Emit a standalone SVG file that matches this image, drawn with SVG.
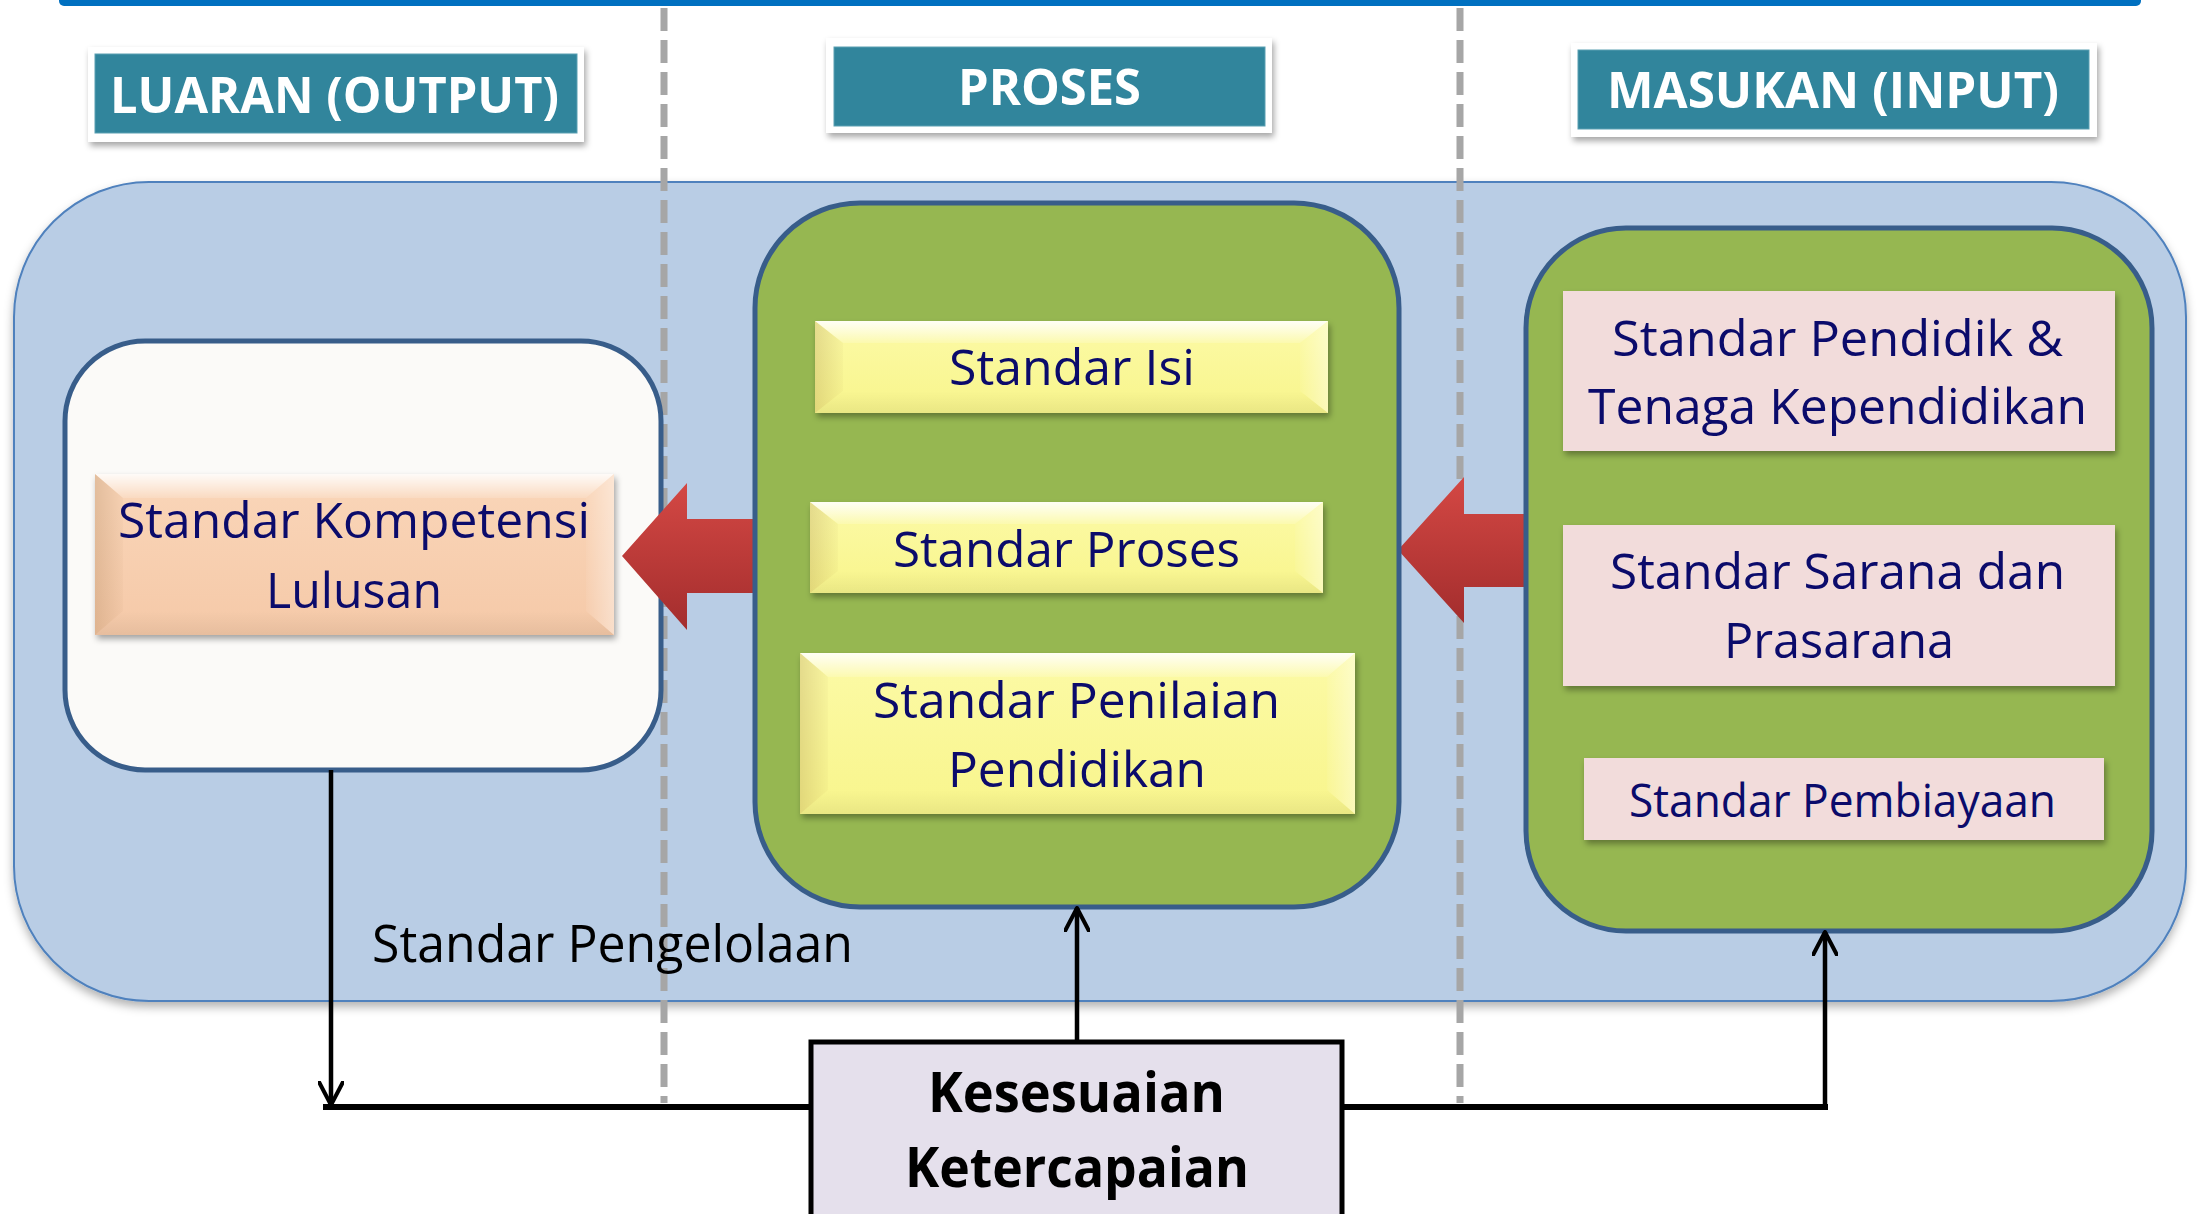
<svg xmlns="http://www.w3.org/2000/svg" width="2201" height="1214" viewBox="0 0 2201 1214">
<defs>
<style>
.hdrOuter{fill:#FFFFFF;}
.hdrInner{fill:#31859C;stroke:#5A9FB2;stroke-width:1;}
.hdrText{font-family:"Open Sans","Liberation Sans",sans-serif;font-weight:bold;font-size:51px;fill:#FFFFFF;}
.bt{font-family:"Open Sans","Liberation Sans",sans-serif;font-size:50px;fill:#0B0B6B;}
.bigBox{fill:#B9CDE5;stroke:#4F81BD;stroke-width:2;}
.container{stroke:#385D8A;stroke-width:5;}
.pink{fill:#F2DCDB;}
.dash{stroke:#A6A6A6;stroke-width:7;stroke-dasharray:23 9;fill:none;}
.conn{stroke:#000;stroke-width:4.5;fill:none;}
.connH{stroke:#000;stroke-width:6;fill:none;}
.redArrow{fill:url(#redG);}
</style>
<filter id="sh" x="-10%" y="-20%" width="125%" height="150%">
<feDropShadow dx="2" dy="4" stdDeviation="3" flood-color="#000" flood-opacity="0.35"/>
</filter>
<filter id="shBig" x="-5%" y="-5%" width="110%" height="115%">
<feDropShadow dx="0" dy="5" stdDeviation="5" flood-color="#000" flood-opacity="0.3"/>
</filter>
<linearGradient id="redG" x1="0" y1="0" x2="0" y2="1">
<stop offset="0" stop-color="#D44844"/>
<stop offset="1" stop-color="#A32D2D"/>
</linearGradient>
<linearGradient id="peachG" x1="0" y1="0" x2="0" y2="1">
<stop offset="0" stop-color="#FAD6B9"/>
<stop offset="1" stop-color="#F5C9A8"/>
</linearGradient>
<linearGradient id="yelG" x1="0" y1="0" x2="0" y2="1">
<stop offset="0" stop-color="#FCFAA6"/>
<stop offset="1" stop-color="#F8F58C"/>
</linearGradient>
<linearGradient id="bvTop" x1="0" y1="0" x2="0" y2="1">
<stop offset="0" stop-color="#FFFFFF" stop-opacity="0.9"/>
<stop offset="1" stop-color="#FFFFFF" stop-opacity="0.15"/>
</linearGradient>
<linearGradient id="bvLeft" x1="0" y1="0" x2="1" y2="0">
<stop offset="0" stop-color="#7A5020" stop-opacity="0.18"/>
<stop offset="1" stop-color="#7A5020" stop-opacity="0.03"/>
</linearGradient>
<linearGradient id="bvRight" x1="0" y1="0" x2="1" y2="0">
<stop offset="0" stop-color="#FFFFFF" stop-opacity="0.05"/>
<stop offset="1" stop-color="#FFFFFF" stop-opacity="0.4"/>
</linearGradient>
<linearGradient id="bvBot" x1="0" y1="0" x2="0" y2="1">
<stop offset="0" stop-color="#000000" stop-opacity="0.0"/>
<stop offset="1" stop-color="#000000" stop-opacity="0.06"/>
</linearGradient>
<marker id="openArrow" viewBox="0 0 26 26" refX="24" refY="13" markerWidth="26" markerHeight="26" markerUnits="userSpaceOnUse" orient="auto">
<path d="M1,1 L24,13 L1,25" fill="none" stroke="#000" stroke-width="4" stroke-linejoin="round" stroke-linecap="round"/>
</marker>
</defs>

<rect x="0" y="0" width="2201" height="1214" fill="#FFFFFF"/>

<!-- top bar -->
<rect id="topBar" x="59" y="-10" width="2082" height="16" rx="5" fill="#0070C0"/>

<!-- background container -->
<g id="mainArea">
<rect class="bigBox" x="14" y="182" width="2172" height="819" rx="135" filter="url(#shBig)"/>
</g>

<!-- divider dashed lines -->
<g id="dividers">
<line class="dash" x1="664" y1="8" x2="664" y2="1103"/>
<line class="dash" x1="1460" y1="8" x2="1460" y2="1103"/>
</g>

<!-- header labels -->
<g id="label-luaran">
<rect class="hdrOuter" x="88" y="47" width="496" height="95" filter="url(#sh)"/>
<rect class="hdrInner" x="95" y="54" width="482" height="79"/>
<text class="hdrText" x="110" y="113" textLength="449" lengthAdjust="spacingAndGlyphs">LUARAN (OUTPUT)</text>
</g>
<g id="label-proses">
<rect class="hdrOuter" x="826" y="38" width="446" height="95" filter="url(#sh)"/>
<rect class="hdrInner" x="834" y="47" width="431" height="79"/>
<text class="hdrText" x="958" y="105" textLength="183" lengthAdjust="spacingAndGlyphs">PROSES</text>
</g>
<g id="label-masukan">
<rect class="hdrOuter" x="1571" y="43" width="526" height="94" filter="url(#sh)"/>
<rect class="hdrInner" x="1578" y="50" width="511" height="79"/>
<text class="hdrText" x="1607" y="108" textLength="452" lengthAdjust="spacingAndGlyphs">MASUKAN (INPUT)</text>
</g>

<!-- output container -->
<g id="output">
<rect class="container" x="65" y="341" width="596" height="429" rx="80" fill="#FBFAF8"/>
</g>

<g id="kompetensi">
<rect x="95" y="474" width="519" height="161" fill="url(#peachG)" filter="url(#sh)"/>
<polygon points="95,474 614,474 586,498 123,498" fill="url(#bvTop)"/>
<polygon points="95,474 123,498 123,611 95,635" fill="url(#bvLeft)"/>
<polygon points="614,474 614,635 586,611 586,498" fill="url(#bvRight)"/>
<polygon points="95,635 123,611 586,611 614,635" fill="url(#bvBot)"/>
<text class="bt" x="118" y="538" textLength="472" lengthAdjust="spacingAndGlyphs">Standar Kompetensi</text>
<text class="bt" x="266" y="608" textLength="176" lengthAdjust="spacingAndGlyphs">Lulusan</text>
</g>

<!-- red flow arrows -->
<g id="flowArrows">
<path class="redArrow" d="M622,556 L687,483 L687,519 L754,519 L754,593 L687,593 L687,630 Z"/>
<path class="redArrow" d="M1398,550 L1464,477 L1464,514 L1530,514 L1530,587 L1464,587 L1464,623 Z"/>
</g>

<!-- process container -->
<g id="proses">
<rect class="container" x="755" y="203" width="644" height="704" rx="105" fill="#96B751"/>
</g>

<g id="standar-isi">
<rect x="815" y="321" width="513" height="92" fill="url(#yelG)" filter="url(#sh)"/>
<polygon points="815,321 1328,321 1300,343 843,343" fill="url(#bvTop)"/>
<polygon points="815,321 843,343 843,391 815,413" fill="url(#bvLeft)"/>
<polygon points="1328,321 1328,413 1300,391 1300,343" fill="url(#bvRight)"/>
<polygon points="815,413 843,391 1300,391 1328,413" fill="url(#bvBot)"/>
<text class="bt" x="949" y="385" textLength="246" lengthAdjust="spacingAndGlyphs">Standar Isi</text>
</g>

<g id="standar-proses">
<rect x="810" y="502" width="513" height="91" fill="url(#yelG)" filter="url(#sh)"/>
<polygon points="810,502 1323,502 1295,524 838,524" fill="url(#bvTop)"/>
<polygon points="810,502 838,524 838,571 810,593" fill="url(#bvLeft)"/>
<polygon points="1323,502 1323,593 1295,571 1295,524" fill="url(#bvRight)"/>
<polygon points="810,593 838,571 1295,571 1323,593" fill="url(#bvBot)"/>
<text class="bt" x="893" y="567" textLength="347" lengthAdjust="spacingAndGlyphs">Standar Proses</text>
</g>

<g id="standar-penilaian">
<rect x="800" y="653" width="555" height="161" fill="url(#yelG)" filter="url(#sh)"/>
<polygon points="800,653 1355,653 1327,677 828,677" fill="url(#bvTop)"/>
<polygon points="800,653 828,677 828,790 800,814" fill="url(#bvLeft)"/>
<polygon points="1355,653 1355,814 1327,790 1327,677" fill="url(#bvRight)"/>
<polygon points="800,814 828,790 1327,790 1355,814" fill="url(#bvBot)"/>
<text class="bt" x="873" y="718" textLength="407" lengthAdjust="spacingAndGlyphs">Standar Penilaian</text>
<text class="bt" x="948" y="787" textLength="258" lengthAdjust="spacingAndGlyphs">Pendidikan</text>
</g>

<!-- input container -->
<g id="masukan">
<rect class="container" x="1526" y="228" width="626" height="703" rx="100" fill="#96B751"/>
</g>

<g id="standar-pendidik">
<rect class="pink" x="1563" y="291" width="552" height="160" filter="url(#sh)"/>
<text class="bt" x="1612" y="356" textLength="451" lengthAdjust="spacingAndGlyphs">Standar Pendidik &amp;</text>
<text class="bt" x="1588" y="424" textLength="499" lengthAdjust="spacingAndGlyphs">Tenaga Kependidikan</text>
</g>

<g id="standar-sarana">
<rect class="pink" x="1563" y="525" width="552" height="161" filter="url(#sh)"/>
<text class="bt" x="1610" y="589" textLength="455" lengthAdjust="spacingAndGlyphs">Standar Sarana dan</text>
<text class="bt" x="1724" y="658" textLength="230" lengthAdjust="spacingAndGlyphs">Prasarana</text>
</g>

<g id="standar-pembiayaan">
<rect class="pink" x="1584" y="758" width="520" height="82" filter="url(#sh)"/>
<text class="bt" x="1629" y="817" textLength="427" lengthAdjust="spacingAndGlyphs" style="font-size:46px">Standar Pembiayaan</text>
</g>

<g id="standar-pengelolaan">
<text x="372" y="962" textLength="481" lengthAdjust="spacingAndGlyphs" style="font-family:'Open Sans','Liberation Sans',sans-serif;font-size:51px;fill:#000000">Standar Pengelolaan</text>
</g>

<!-- connectors -->
<g id="connectors">
<path class="conn" d="M331,770 L331,1105" marker-end="url(#openArrow)"/>
<path class="connH" d="M323,1107 L811,1107"/>
<path class="conn" d="M1077,1042 L1077,908" marker-end="url(#openArrow)"/>
<path class="connH" d="M1342,1107 L1828,1107"/>
<path class="conn" d="M1825,1110 L1825,932" marker-end="url(#openArrow)"/>
</g>

<g id="kesesuaian">
<rect x="811" y="1042" width="531" height="200" fill="#E5E0EC" stroke="#000" stroke-width="5"/>
<text x="928" y="1112" textLength="297" lengthAdjust="spacingAndGlyphs" style="font-family:'Open Sans','Liberation Sans',sans-serif;font-weight:bold;font-size:56px;fill:#000">Kesesuaian</text>
<text x="905" y="1187" textLength="344" lengthAdjust="spacingAndGlyphs" style="font-family:'Open Sans','Liberation Sans',sans-serif;font-weight:bold;font-size:56px;fill:#000">Ketercapaian</text>
</g>
</svg>
